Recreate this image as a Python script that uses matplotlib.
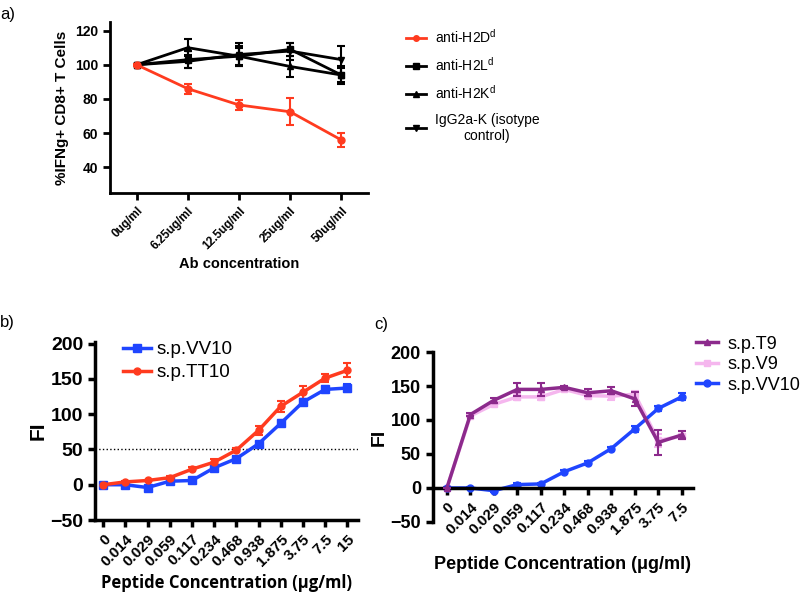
import numpy as np
import matplotlib
matplotlib.use("Agg")
from matplotlib import pyplot as plt, lines

plt.rcParams['font.family'] = ['Liberation Sans', 'DejaVu Sans']
plt.rcParams['mathtext.default'] = 'regular'

RED = '#ff3b1f'
BLUE = '#1f45ff'
PURPLE = '#8c2a8c'
PINK = '#f5b6ee'

# panel a
ab_labels = ['0ug/ml', '6.25ug/ml', '12.5ug/ml', '25ug/ml', '50ug/ml']
h2dd = [100, 86, 76.5, 72.5, 56]
h2dd_err = [0.5, 3, 3, 8, 4]
h2ld = [100, 103, 105, 109, 94]
h2ld_err = [0.5, 5, 6, 4, 5]
h2kd = [100, 110, 105, 99, 94]
h2kd_err = [0.5, 5, 5, 6, 4]
igg = [100, 102, 106, 108, 103]
igg_err = [0.5, 4, 7, 5, 8]

# panel b
conc_b = ['0', '0.014', '0.029', '0.059', '0.117', '0.234', '0.468', '0.938',
          '1.875', '3.75', '7.5', '15']
vv10_b = [0, 0, -4, 5, 6, 24, 37, 58, 87, 117, 135, 137]
vv10_b_err = [1, 1, 2, 2, 2, 2, 3, 3, 4, 4, 5, 5]
tt10_b = [0, 4, 6, 10, 22, 32, 49, 77, 111, 131, 151, 162]
tt10_b_err = [1, 1, 1, 2, 3, 4, 3, 6, 8, 9, 6, 10]

# panel c
conc_c = conc_b[:11]
t9 = [0, 108, 129, 145, 145, 148, 140, 143, 131, 67, 78]
t9_err = [0, 2, 4, 10, 9, 2, 5, 5, 10, 18, 6]
v9 = [0, 106, 123, 134, 134, 145, 136, 135, 138, 70, 76]
v9_err = [0, 2, 3, 4, 4, 2, 4, 6, 5, 10, 4]
vv10_c = [0, 0, -4, 5, 6, 24, 37, 58, 87, 117, 134]
vv10_c_err = [1, 1, 2, 2, 2, 2, 3, 3, 4, 4, 5]

fig = plt.figure(figsize=(8, 5.95), dpi=100)


def style_axes(ax, lw):
  ax.spines['top'].set_visible(False)
  ax.spines['right'].set_visible(False)
  ax.spines['left'].set_linewidth(lw)
  ax.spines['bottom'].set_linewidth(lw)
  ax.tick_params(width=lw, length=5)


def series(ax, x, y, err, color, marker, ms, lw, label, z=2):
  ax.errorbar(x, y, yerr=err, color=color, marker=marker, ms=ms, lw=lw, capsize=3,
              capthick=1.5, elinewidth=1.5, zorder=z)
  return lines.Line2D([], [], color=color, marker=marker, ms=ms, lw=lw, label=label)


# ---- a ----
axa = fig.add_axes([0.1375, 0.6756, 0.3225, 0.2874])
xa = np.arange(len(ab_labels))
ha = [
  series(axa, xa, h2dd, h2dd_err, RED, 'o', 5, 2, 'anti-H2D$^{d}$', 3),
  series(axa, xa, h2ld, h2ld_err, 'black', 's', 5, 2, 'anti-H2L$^{d}$'),
  series(axa, xa, h2kd, h2kd_err, 'black', '^', 5, 2, 'anti-H2K$^{d}$'),
  series(axa, xa, igg, igg_err, 'black', 'v', 5, 2, 'IgG2a-K (isotype\ncontrol)'),
]
axa.set_xlim(-0.52, 4.52)
axa.set_ylim(25, 125)
axa.set_yticks([40, 60, 80, 100, 120])
axa.set_xticks(xa)
axa.set_xticklabels(ab_labels, rotation=45, ha='right', rotation_mode='anchor',
                    fontsize=8.5, fontweight='bold')
for t in axa.get_yticklabels():
  t.set_fontsize(10)
  t.set_fontweight('bold')
axa.set_ylabel('%IFNg+ CD8+ T Cells', fontsize=11, fontweight='bold')
axa.set_xlabel('Ab concentration', fontsize=10.5, fontweight='bold')
style_axes(axa, 2)
leg_a = axa.legend(handles=ha, loc='upper left', bbox_to_anchor=(1.124, 1.0), frameon=False,
                   fontsize=10, handlelength=1.5, handletextpad=0.6, labelspacing=0.75,
                   borderaxespad=0, markerscale=0.8)
leg_a.get_texts()[3].set_multialignment('center')
fig.text(0.0, 0.975, 'a)', fontsize=12, va='center')

# ---- b ----
axb = fig.add_axes([0.119, 0.126, 0.329, 0.299])
xb = np.arange(len(conc_b))
axb.axhline(50, color='black', ls=':', lw=1)
hb = [
  series(axb, xb, vv10_b, vv10_b_err, BLUE, 's', 6, 2.5, 's.p.VV10'),
  series(axb, xb, tt10_b, tt10_b_err, RED, 'o', 5, 2.5, 's.p.TT10'),
]
axb.set_xlim(-0.36, 11.5)
axb.set_ylim(-50, 202)
axb.set_yticks([-50, 0, 50, 100, 150, 200])
axb.set_xticks(xb)
axb.set_xticklabels(conc_b, rotation=45, ha='right', rotation_mode='anchor',
                    fontsize=11, fontweight='bold')
for t in axb.get_yticklabels():
  t.set_fontsize(14)
  t.set_fontweight('bold')
axb.set_ylabel('FI', fontsize=15, fontweight='bold', labelpad=2)
axb.set_xlabel('Peptide Concentration (μg/ml)', fontsize=12, fontweight='bold',
               family=['Open Sans', 'DejaVu Sans'])
style_axes(axb, 2.5)
axb.legend(handles=hb, loc='upper left', bbox_to_anchor=(0.04, 1.1), frameon=False,
           fontsize=13.5, handlelength=1.5, handletextpad=0.3, labelspacing=0.3)
fig.text(0.0, 0.458, 'b)', fontsize=12, va='center')

# ---- c ----
axc = fig.add_axes([0.541, 0.1227, 0.325, 0.2857])
axc.spines['bottom'].set_position(('data', 0))
xc = np.arange(len(conc_c))
hc = [
  series(axc, xc, t9, t9_err, PURPLE, '^', 5, 2.5, 's.p.T9', 3),
  series(axc, xc, v9, v9_err, PINK, 's', 5, 2.5, 's.p.V9'),
  series(axc, xc, vv10_c, vv10_c_err, BLUE, 'o', 5, 2.5, 's.p.VV10'),
]
axc.set_xlim(-0.6, 10.47)
axc.set_ylim(-50, 200)
axc.set_yticks([-50, 0, 50, 100, 150, 200])
axc.set_xticks(xc)
axc.set_xticklabels(conc_c, rotation=45, ha='right', rotation_mode='anchor',
                    fontsize=11, fontweight='bold')
for t in axc.get_yticklabels():
  t.set_fontsize(13)
  t.set_fontweight('bold')
axc.set_ylabel('FI', fontsize=14, fontweight='bold', labelpad=2)
axc.set_xlabel('Peptide Concentration (μg/ml)', fontsize=13, fontweight='bold')
axc.xaxis.set_label_coords(0.5, -0.2)
style_axes(axc, 2.5)
axc.legend(handles=hc, loc='upper left', bbox_to_anchor=(1.0, 1.118), frameon=False,
           fontsize=13, handlelength=1.2, labelspacing=0.2, handletextpad=0.5,
           borderaxespad=0, borderpad=0.2)
fig.text(0.468, 0.455, 'c)', fontsize=12, va='center')

fig.savefig('out.png', dpi=100)
